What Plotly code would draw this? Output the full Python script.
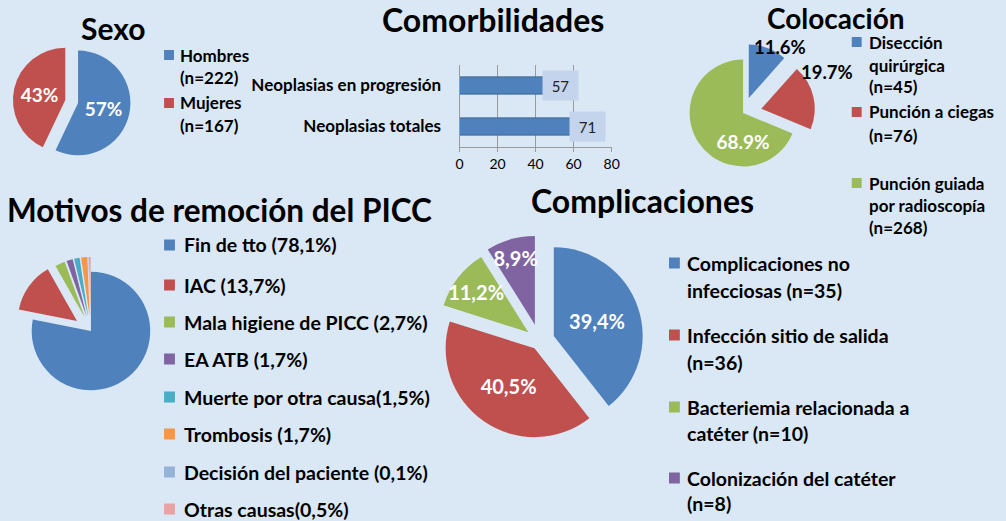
import plotly.graph_objects as go

W, H = 1006, 521
FONT = "Lato"
BG = "#dae7f4"

# ---------------- data ----------------
sexo_labels = ["Hombres<br>(n=222)", "Mujeres<br>(n=167)"]
sexo_values = [222, 167]
sexo_text = ["57%", "43%"]
sexo_colors = ["#4f81bd", "#c0504d"]

com_categories = ["Neoplasias totales", "Neoplasias en progresión"]
com_values = [71, 57]
com_ticks = [0, 20, 40, 60, 80]

col_labels = ["Disección<br>quirúrgica<br>(n=45)", "Punción a ciegas<br>(n=76)",
              "Punción guiada<br>por radioscopía<br>(n=268)"]
col_values = [11.6, 19.7, 68.9]
col_text = ["11.6%", "19.7%", "68.9%"]
col_colors = ["#4f81bd", "#c0504d", "#9bbb59"]

mot_labels = ["Fin de tto (78,1%)", "IAC (13,7%)", "Mala higiene de PICC (2,7%)",
              "EA ATB (1,7%)", "Muerte por otra causa(1,5%)", "Trombosis (1,7%)",
              "Decisión del paciente (0,1%)", "Otras causas(0,5%)"]
mot_values = [78.1, 13.7, 2.7, 1.7, 1.5, 1.7, 0.1, 0.5]
mot_colors = ["#4f81bd", "#c0504d", "#9bbb59", "#8064a2", "#4bacc6", "#f79646",
              "#95b3d7", "#e6a3a1"]

comp_labels = ["Complicaciones no<br>infecciosas (n=35)", "Infección sitio de salida<br>(n=36)",
               "Bacteriemia relacionada a<br>catéter (n=10)", "Colonización del catéter<br>(n=8)"]
comp_values = [39.4, 40.5, 11.2, 8.9]
comp_text = ["39,4%", "40,5%", "11,2%", "8,9%"]
comp_colors = ["#4f81bd", "#c0504d", "#9bbb59", "#8064a2"]


def dom(cx, cy, half):
    return dict(x=[(cx - half) / W, (cx + half) / W],
                y=[1 - (cy + half) / H, 1 - (cy - half) / H])


fig = go.Figure()

# Sexo pie
fig.add_trace(go.Pie(
    values=sexo_values, text=sexo_text, textinfo="text", sort=False,
    direction="clockwise", rotation=0, pull=[0.125, 0.125],
    marker=dict(colors=sexo_colors, line=dict(width=0)),
    textposition="inside", insidetextorientation="horizontal",
    textfont=dict(family=FONT, size=19, color="white", weight="bold"),
    domain=dom(68.5, 101.5, 59.6), showlegend=False, hoverinfo="skip"))

# Colocación pie
fig.add_trace(go.Pie(
    values=col_values, text=col_text, textinfo="text", sort=False,
    direction="clockwise", rotation=0, pull=[0.3, 0.35, 0],
    marker=dict(colors=col_colors, line=dict(width=0)),
    textposition=["none", "none", "inside"], insidetextorientation="horizontal",
    insidetextfont=dict(family=FONT, size=19, color="white", weight="bold"),
    domain=dom(748, 113, 73), showlegend=False, hoverinfo="skip"))

# Motivos pie
fig.add_trace(go.Pie(
    values=mot_values, textinfo="none", sort=False,
    direction="clockwise", rotation=0, pull=[0, 0.29, 0.25, 0.25, 0.25, 0.25, 0.25, 0.25],
    marker=dict(colors=mot_colors, line=dict(width=0)),
    domain=dom(88, 331, 77.4), showlegend=False, hoverinfo="skip"))

# Complicaciones pie
fig.add_trace(go.Pie(
    values=comp_values, text=comp_text, textinfo="text", sort=False,
    direction="clockwise", rotation=0, pull=[0.17, 0.1, 0.16, 0.19],
    marker=dict(colors=comp_colors, line=dict(width=0)),
    textposition="inside", insidetextorientation="horizontal",
    textfont=dict(family=FONT, size=20, color="white", weight="bold"),
    domain=dom(542, 341, 107), showlegend=False, hoverinfo="skip"))

# Comorbilidades bar
fig.add_trace(go.Bar(
    x=com_values, y=com_categories, orientation="h",
    marker=dict(color="#4f81bd", line=dict(color="#3b6494", width=1)),
    showlegend=False, hoverinfo="skip"))

fig.update_layout(
    width=W, height=H, margin=dict(l=0, r=0, t=0, b=0),
    paper_bgcolor=BG, plot_bgcolor="rgba(0,0,0,0)",
    font=dict(family=FONT, color="black"),
    uniformtext=dict(minsize=18, mode="show"),
    bargap=0.58,
    xaxis=dict(domain=[461 / W, 615 / W], range=[0, 80], tickvals=com_ticks,
               showgrid=True, gridcolor="#9a9a9a", gridwidth=1, zeroline=False,
               showline=True, linecolor="#9a9a9a", ticks="outside", ticklen=4,
               tickcolor="#9a9a9a", tickfont=dict(family=FONT, size=14, color="black"),
               fixedrange=True),
    yaxis=dict(domain=[1 - 147 / H, 1 - 65 / H], showgrid=False, zeroline=False,
               showline=True, linecolor="#9a9a9a", ticks="", ticklabelstandoff=14,
               tickfont=dict(family=FONT, size=17, color="black", weight="bold"),
               fixedrange=True),
)

ann = []
shapes = []

# value labels on bars
for cat, v in zip(com_categories, com_values):
    ann.append(dict(x=v, y=cat, xref="x", yref="y", text=str(v), showarrow=False,
                    xanchor="center", yanchor="middle", xshift=-7,
                    width=33, height=27, bgcolor="#c3d4ec",
                    font=dict(family=FONT, size=15, color="#222")))

# outside labels of the Colocación pie
for t, x, y in [(col_text[0], 785, 47), (col_text[1], 833, 72)]:
    ann.append(dict(x=x / W, y=1 - y / H, xref="paper", yref="paper", text="<b>%s</b>" % t,
                    showarrow=False, xanchor="center", yanchor="middle", borderpad=0,
                    font=dict(family=FONT, size=18.5, color="black")))

# titles
titles = [("Sexo", 110, 28, 30), ("Comorbilidades", 495, 20, 32),
          ("Motivos de remoción del PICC", 218, 210, 31.5),
          ("Complicaciones", 646, 200, 32)]
for t, x, y, s in titles:
    ann.append(dict(x=x / W, y=1 - y / H, xref="paper", yref="paper", text="<b>%s</b>" % t,
                    showarrow=False, xanchor="center", yanchor="middle",
                    font=dict(family=FONT, size=s, color="black")))
# Colocación title hugs the top edge
ann.append(dict(x=842 / W, y=1, xref="paper", yref="paper", text="<b>Colocación</b>",
                showarrow=False, xanchor="center", yanchor="top", borderpad=0,
                font=dict(family=FONT, size=28, color="black")))


def legend(labels, colors, sq_x, txt_x, line_ys, size, sq):
    idx = 0
    for lab, c in zip(labels, colors):
        lines = lab.split("<br>")
        y0 = line_ys[idx]
        shapes.append(dict(type="rect", xref="paper", yref="paper",
                           x0=sq_x / W, x1=(sq_x + sq) / W,
                           y0=1 - (y0 + sq / 2) / H, y1=1 - (y0 - sq / 2) / H,
                           fillcolor=c, line=dict(width=0)))
        for ln in lines:
            ann.append(dict(x=txt_x / W, y=1 - line_ys[idx] / H, xref="paper", yref="paper",
                            text="<b>%s</b>" % ln, showarrow=False, xanchor="left",
                            yanchor="middle", font=dict(family=FONT, size=size, color="black")))
            idx += 1


legend(sexo_labels, sexo_colors, 162, 176, [55, 78, 103, 125], 17, 10)
legend(col_labels, col_colors, 858, 873, [42, 65, 87, 112, 135, 183, 205, 228], 17, 10)
legend(mot_labels, mot_colors, 162, 180, [245, 285, 322, 359, 397, 434, 472, 509], 19.5, 11)
legend(comp_labels, comp_colors, 673, 689, [263, 290, 335, 362, 407, 433, 478, 503], 19.5, 11)

fig.update_layout(annotations=ann, shapes=shapes)
fig.write_html("out.html", config={"displayModeBar": False},
               post_script="document.body.style.margin='0';document.body.style.padding='0';"
                           "document.body.style.overflow='hidden';")
